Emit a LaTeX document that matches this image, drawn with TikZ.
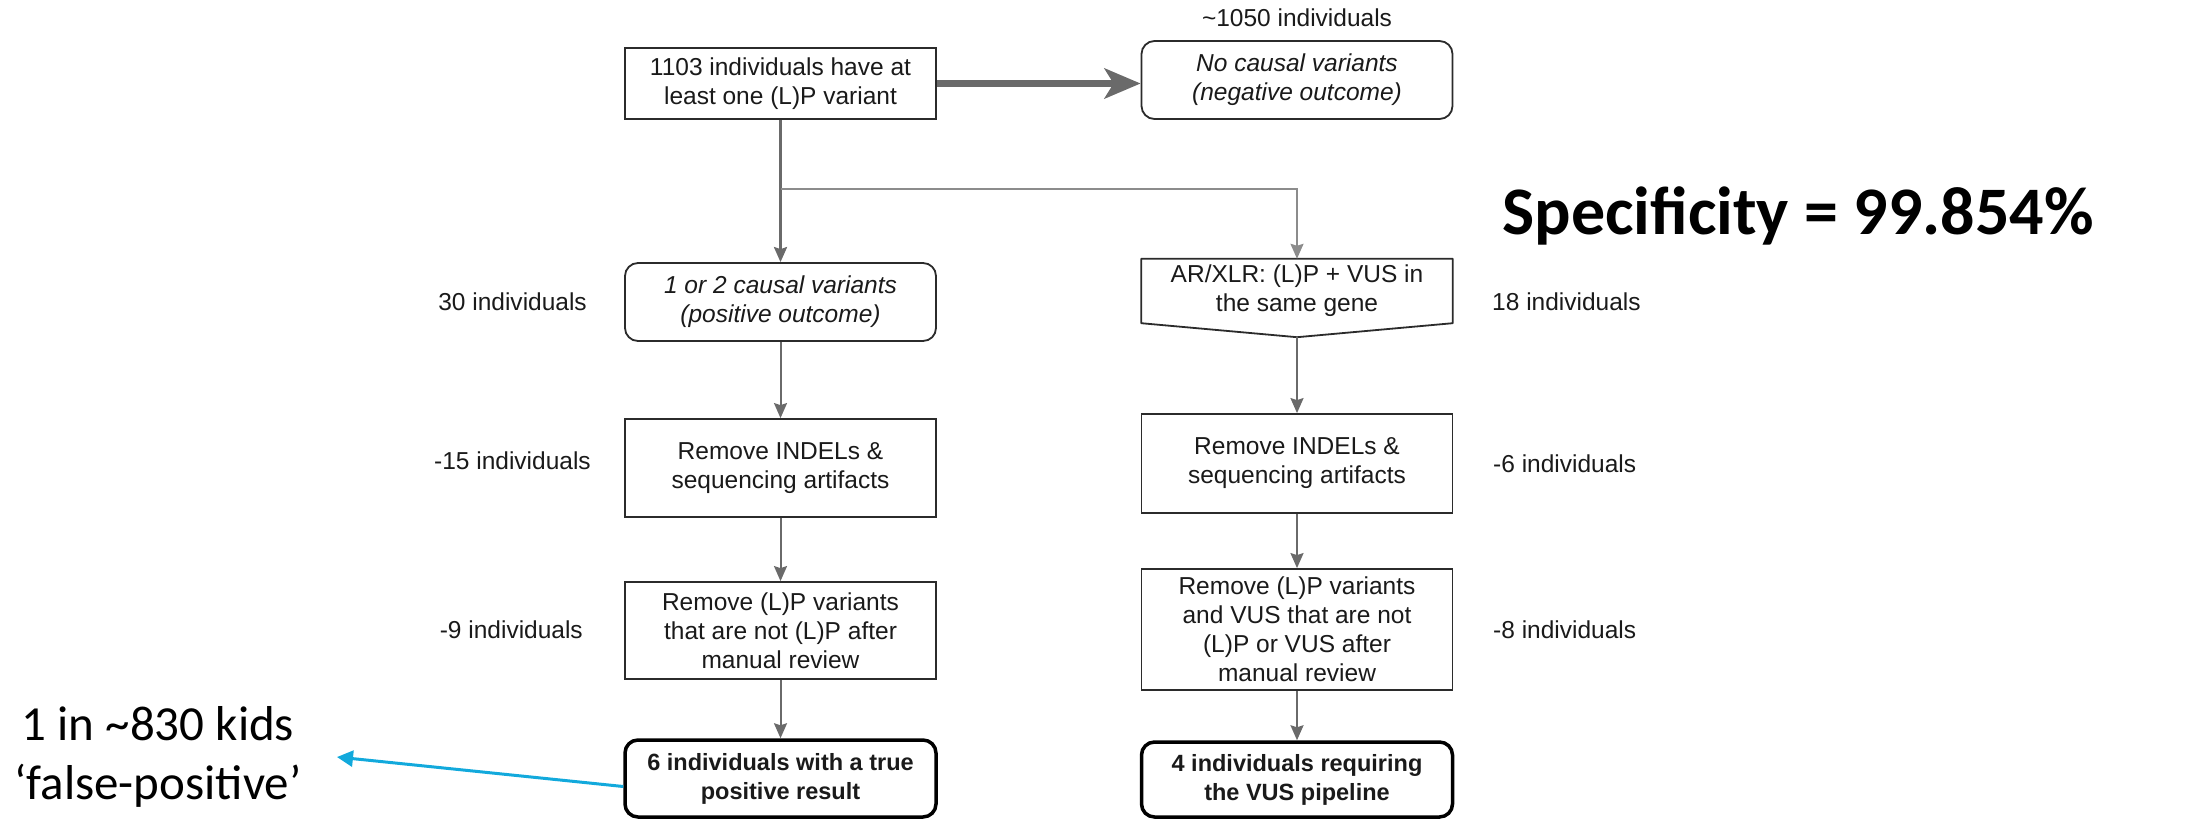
\documentclass[tikz,border=0pt]{standalone}
\usepackage{fontspec}
\setmainfont{Liberation Sans}
\newfontfamily\calibri{Carlito}
\usetikzlibrary{arrows.meta,calc}

\definecolor{boxline}{HTML}{2B2B2B}
\definecolor{conn}{HTML}{6A6A6A}
\definecolor{branch}{HTML}{8C8C8C}
\definecolor{note}{HTML}{12A9DC}
\definecolor{ink}{HTML}{1A1A1A}

\newcommand\flowsize{\fontsize{24.5}{29}\selectfont}

\tikzset{
  box/.style={draw=boxline, line width=1.8pt, fill=white, text=ink,
    minimum width=311pt, inner sep=0pt, align=center, font=\flowsize},
  rbox/.style={box, rounded corners=13pt},
  endbox/.style={box, rounded corners=13pt, draw=black, line width=3.5pt,
    font=\fontsize{23.5}{29}\selectfont\bfseries},
  side/.style={font=\flowsize, text=ink, inner sep=0pt},
  flow/.style={draw=conn, line width=2pt,
    -{Stealth[length=15pt,width=13pt,inset=2pt]}},
}

\begin{document}
\begin{tikzpicture}[x=1pt,y=-1pt]
\useasboundingbox (0,0) rectangle (2186,819);

% start and negative outcome
\node[box, minimum height=71pt] (top) at (780.5,83.5)
  {1103 individuals have at\\least one (L)P variant};
\node[rbox, minimum height=78pt, font=\flowsize\itshape] (neg) at (1297,80)
  {No causal variants\\(negative outcome)};
\node[side] (negn) at (1297,18) {\textasciitilde 1050 individuals};

% left column: causal variants
\node[rbox, minimum height=78pt, font=\flowsize\itshape] (pos) at (780.5,302)
  {1 or 2 causal variants\\(positive outcome)};
\node[box, minimum height=98pt] (lb2) at (780.5,468)
  {Remove INDELs \&\\sequencing artifacts};
\node[box, minimum height=97pt] (lb3) at (780.5,630.5)
  {Remove (L)P variants\\that are not (L)P after\\manual review};
\node[endbox, minimum height=77pt] (tp) at (780.5,778.5)
  {6 individuals with a true\\positive result};

% right column: (L)P + VUS
\node[inner sep=0pt, minimum width=311pt, minimum height=64pt, align=center,
  font=\flowsize, text=ink] (vus) at (1297,291)
  {AR/XLR: (L)P + VUS in\\the same gene};
\coordinate (vustip) at ($(vus.south)+(0,14)$);
\draw[boxline, line width=1.8pt, line join=round]
  (vus.north west) -- (vus.north east) -- (vus.south east) -- (vustip)
  -- (vus.south west) -- cycle;
\node[box, minimum height=99pt] (rb2) at (1297,463.5)
  {Remove INDELs \&\\sequencing artifacts};
\node[box, minimum height=121pt] (rb3) at (1297,629.5)
  {Remove (L)P variants\\and VUS that are not\\(L)P or VUS after\\manual review};
\node[endbox, minimum height=75pt] (vp) at (1297,779.5)
  {4 individuals requiring\\the VUS pipeline};

% counts beside the boxes
\node[side, anchor=east] (n30) at (587,302) {30 individuals};
\node[side, anchor=east] (n15) at (591,461) {-15 individuals};
\node[side, anchor=east] (n9) at (583,630) {-9 individuals};
\node[side, anchor=west] (n18) at (1492,302) {18 individuals};
\node[side, anchor=west] (n6) at (1493,464) {-6 individuals};
\node[side, anchor=west] (n8) at (1493,630) {-8 individuals};

% connectors
\draw[draw=conn, line width=7pt,
  -{Stealth[length=36pt,width=30pt,inset=9pt]}] (top.east) -- (top.east -| neg.west);
\coordinate (split) at (781,189);
\draw[flow, line width=2.6pt] (top.south) -- (pos.north);
\draw[flow, draw=branch, line width=1.8pt] (split) -| (vus.north);
\draw[flow] (pos.south) -- (lb2.north);
\draw[flow] (lb2.south) -- (lb3.north);
\draw[flow] (lb3.south) -- (tp.north);
\draw[flow] (vustip) -- (rb2.north);
\draw[flow] (rb2.south) -- (rb3.north);
\draw[flow] (rb3.south) -- (vp.north);

% annotations
\node[font=\calibri\bfseries\fontsize{68}{80}\selectfont, text=black, inner sep=0pt]
  (spec) at (1798,216) {Specificity = 99.854\%};
\node[font=\calibri\fontsize{49}{59}\selectfont, text=black, align=center, inner sep=0pt]
  (fp) at (158,757) {1 in \textasciitilde 830 kids\\‘false-positive’};
\coordinate (fptip) at (337,757);
\draw[note, line width=3pt, -{Triangle[length=16pt,width=16pt]}]
  ([yshift=-8pt]tp.west) -- (fptip);
\end{tikzpicture}
\end{document}
